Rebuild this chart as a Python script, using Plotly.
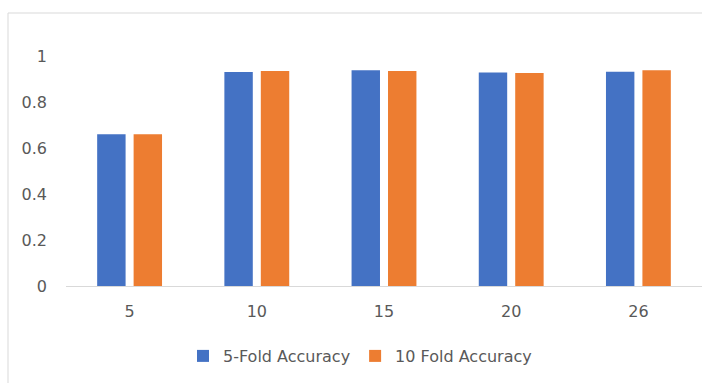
import plotly.graph_objects as go

# Number of features used, and cross-validated accuracy for each setting
categories = ["5", "10", "15", "20", "26"]
acc_5fold = [0.66, 0.93, 0.938, 0.928, 0.932]
acc_10fold = [0.66, 0.935, 0.935, 0.926, 0.938]
series_names = ["5-Fold Accuracy", "10 Fold Accuracy"]
y_ticks = [0, 0.2, 0.4, 0.6, 0.8, 1]
y_tick_text = ["0", "0.2", "0.4", "0.6", "0.8", "1"]

BLUE = "#4472C4"
ORANGE = "#ED7D31"
TEXT = "#595959"
FRAME = "#D9D9D9"
FONT = "'DejaVu Sans', sans-serif"
FSIZE = 16

W, H = 702, 383
L, R, T, B = 66, 0, 56, 97
plot_w = W - L - R
plot_h = H - T - B

fig = go.Figure()
fig.add_trace(go.Bar(x=categories, y=acc_5fold, name=series_names[0],
                     marker=dict(color=BLUE, line=dict(width=0))))
fig.add_trace(go.Bar(x=categories, y=acc_10fold, name=series_names[1],
                     marker=dict(color=ORANGE, line=dict(width=0))))


def px_x(p):
    return (p - L) / plot_w


def px_y(p):
    return (H - B - p) / plot_h


# Light frame around the chart area: left and top edges
# (the right and bottom edges lie off the page)
fx0, fx1 = px_x(8), px_x(W + 20)
fy0, fy1 = px_y(H + 20), px_y(13)
for x0, y0, x1, y1 in [(fx0, fy0, fx0, fy1), (fx0, fy1, fx1, fy1)]:
    fig.add_shape(type="line", xref="paper", yref="paper",
                  x0=x0, y0=y0, x1=x1, y1=y1,
                  line=dict(color=FRAME, width=1), layer="below")

fig.update_layout(
    width=W, height=H,
    margin=dict(l=L, r=R, t=T, b=B, pad=0),
    paper_bgcolor="white", plot_bgcolor="white",
    barmode="group", bargap=0.427, bargroupgap=0.22,
    font=dict(family=FONT, size=FSIZE, color=TEXT),
    showlegend=True,
    legend=dict(orientation="h", x=px_x(360), xanchor="center",
                y=px_y(356), yanchor="middle",
                font=dict(family=FONT, size=FSIZE, color=TEXT),
                bgcolor="rgba(0,0,0,0)"),
    xaxis=dict(showgrid=False, zeroline=False, showline=True,
               linecolor=FRAME, linewidth=1.3, ticks="",
               ticklabelstandoff=11, fixedrange=True),
    yaxis=dict(range=[0, 1], tickvals=y_ticks, ticktext=y_tick_text,
               showgrid=False, zeroline=False, showline=False, ticks="",
               ticklabelstandoff=18, fixedrange=True),
)

fig.write_html("out.html")
